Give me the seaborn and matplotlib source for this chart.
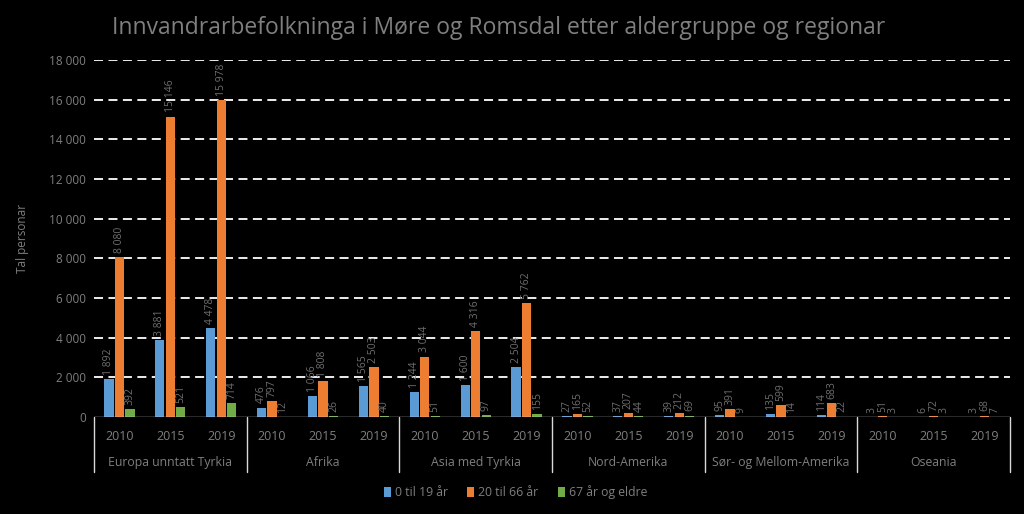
import matplotlib.pyplot as plt
import matplotlib.transforms as mtransforms
import pandas as pd
import seaborn as sb

regions = ["Europa unntatt Tyrkia", "Afrika", "Asia med Tyrkia", "Nord-Amerika",
           "Sør- og Mellom-Amerika", "Oseania"]
years = ["2010", "2015", "2019"]
age_groups = ["0 til 19 år", "20 til 66 år", "67 år og eldre"]

# values per region, in year order 2010, 2015, 2019
young = [[1892, 3881, 4478], [476, 1066, 1565], [1244, 1600, 2504],
         [27, 37, 39], [95, 135, 114], [3, 6, 3]]
adult = [[8080, 15146, 15978], [797, 1808, 2503], [3044, 4316, 5762],
         [165, 207, 212], [391, 599, 683], [51, 72, 68]]
old = [[392, 521, 714], [12, 26, 40], [51, 97, 155],
       [52, 44, 69], [9, 14, 22], [3, 3, 7]]

colors = ["#5B9BD5", "#ED7D31", "#70AD47"]
grey = "#7f7f7f"

rows = []
for r, region in enumerate(regions):
    for y, year in enumerate(years):
        for a, series in enumerate([young, adult, old]):
            rows.append({"slot": region + " " + year, "age": age_groups[a],
                         "value": series[r][y]})
df = pd.DataFrame(rows)
slots = list(dict.fromkeys(df["slot"]))

sb.set_style("dark")
plt.rcParams["font.family"] = ["Open Sans", "DejaVu Sans"]

fig = plt.figure(figsize=(10.24, 5.14), dpi=100, facecolor="black")
ax = fig.add_axes([0.0918, 0.1887, 0.8945, 0.6946])
ax.set_facecolor("black")

sb.barplot(data=df, x="slot", y="value", hue="age", order=slots, hue_order=age_groups,
           palette=colors, width=0.62, gap=0.12, linewidth=0, saturation=1,
           ax=ax, legend=True)

for cont in ax.containers:
    labels = [f"{int(b.get_height()):,}".replace(",", " ") for b in cont]
    ax.bar_label(cont, labels=labels, rotation=90, padding=3, fontsize=7.5, color="#6f6f6f")

ax.set_ylim(0, 18000)
ax.set_xlim(-0.5, len(slots) - 0.5)
ax.set_yticks(range(0, 18001, 2000))
ax.set_yticklabels([f"{v:,}".replace(",", " ") for v in range(0, 18001, 2000)])
ax.grid(False)
for v in range(2000, 18001, 2000):
    ax.axhline(v, color="white", lw=1.3, ls=(0, (5, 3)), zorder=0)
ax.axhline(0, color="#d9d9d9", lw=1, zorder=3)

for s in ax.spines.values():
    s.set_visible(False)

ax.set_xticks(range(len(slots)))
ax.set_xticklabels(years * len(regions))
ax.tick_params(axis="x", length=0, pad=9, labelsize=9, labelcolor=grey)
ax.tick_params(axis="y", length=0, pad=6, labelsize=8.5, labelcolor=grey)
ax.set_xlabel("")
ax.set_ylabel("Tal personar", color=grey, fontsize=8.5, labelpad=14)

# second level of category axis
trans = mtransforms.blended_transform_factory(ax.transData, ax.transAxes)
for r, region in enumerate(regions):
    ax.text(r * 3 + 1, -0.128, region, transform=trans, ha="center", va="center",
            fontsize=8.8, color=grey)
for r in range(len(regions) + 1):
    ax.plot([r * 3 - 0.5, r * 3 - 0.5], [0, -0.155], transform=trans,
            color="#d9d9d9", lw=1, clip_on=False)

leg = ax.legend(loc="center", bbox_to_anchor=(0.46, -0.21), ncol=3, frameon=False,
                fontsize=8.8, handlelength=0.6, handleheight=0.9, handletextpad=0.3,
                columnspacing=1.6)
for t in leg.get_texts():
    t.set_color(grey)

fig.text(0.487, 0.945, "Innvandrarbefolkninga i Møre og Romsdal etter aldergruppe og regionar",
         ha="center", va="center", fontsize=16.5, color="#7f7f7f")

plt.savefig("out.png", dpi=100, facecolor="black")
